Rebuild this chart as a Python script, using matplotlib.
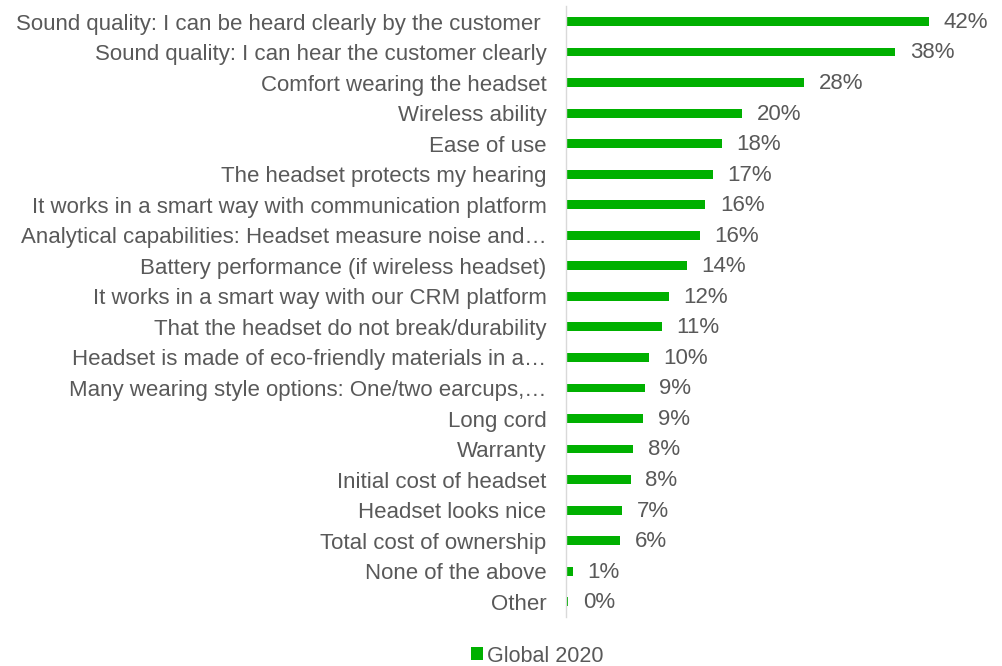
import matplotlib
matplotlib.use("Agg")
import matplotlib.pyplot as plt
from matplotlib.patches import Patch

categories = [
    "Sound quality: I can be heard clearly by the customer ",
    "Sound quality: I can hear the customer clearly",
    "Comfort wearing the headset",
    "Wireless ability",
    "Ease of use",
    "The headset protects my hearing",
    "It works in a smart way with communication platform",
    "Analytical capabilities: Headset measure noise and\u2026",
    "Battery performance (if wireless headset)",
    "It works in a smart way with our CRM platform",
    "That the headset do not break/durability",
    "Headset is made of eco-friendly materials in a\u2026",
    "Many wearing style options: One/two earcups,\u2026",
    "Long cord",
    "Warranty",
    "Initial cost of headset",
    "Headset looks nice",
    "Total cost of ownership",
    "None of the above",
    "Other",
]
values = [42.0, 38.1, 27.6, 20.4, 18.0, 17.0, 16.1, 15.5, 14.0, 11.9,
          11.1, 9.6, 9.1, 8.9, 7.75, 7.5, 6.5, 6.25, 0.8, 0.23]
value_labels = ["42%", "38%", "28%", "20%", "18%", "17%", "16%", "16%", "14%", "12%",
                "11%", "10%", "9%", "9%", "8%", "8%", "7%", "6%", "1%", "0%"]
series_name = "Global 2020"

green = "#00B000"
gray = "#595959"

plt.rcParams['font.family'] = ['Liberation Sans', 'DejaVu Sans']

fig = plt.figure(figsize=(10.03, 6.66), dpi=100)
ax = fig.add_axes([566 / 1003, 1 - 617 / 666, 432 / 1003, (617 - 6.25) / 666])

y = list(range(len(categories)))
ax.barh(y, values, height=0.29, color=green)
ax.set_ylim(len(categories) - 0.5, -0.5)
ax.set_xlim(0, 50)

for yi, v, lab in zip(y, values, value_labels):
    ax.text(v + 1.7, yi + 0.03, lab, va="center", ha="left", fontsize=16, color=gray)

ax.set_yticks(y)
ax.set_yticklabels(categories, fontsize=16, color=gray)
ax.tick_params(axis="y", length=0, pad=14)
ax.set_xticks([])
for s in ["top", "right", "bottom"]:
    ax.spines[s].set_visible(False)
ax.spines["left"].set_color("#D9D9D9")
ax.spines["left"].set_linewidth(1)

handles = [Patch(facecolor=green, label=series_name)]
fig.legend(handles=handles, loc="center", bbox_to_anchor=(537 / 1003, 1 - 656 / 666),
           frameon=False, fontsize=15.5, handlelength=0.55, handleheight=0.55,
           handletextpad=0.2, labelcolor=gray)

fig.savefig("out.png", dpi=100)
